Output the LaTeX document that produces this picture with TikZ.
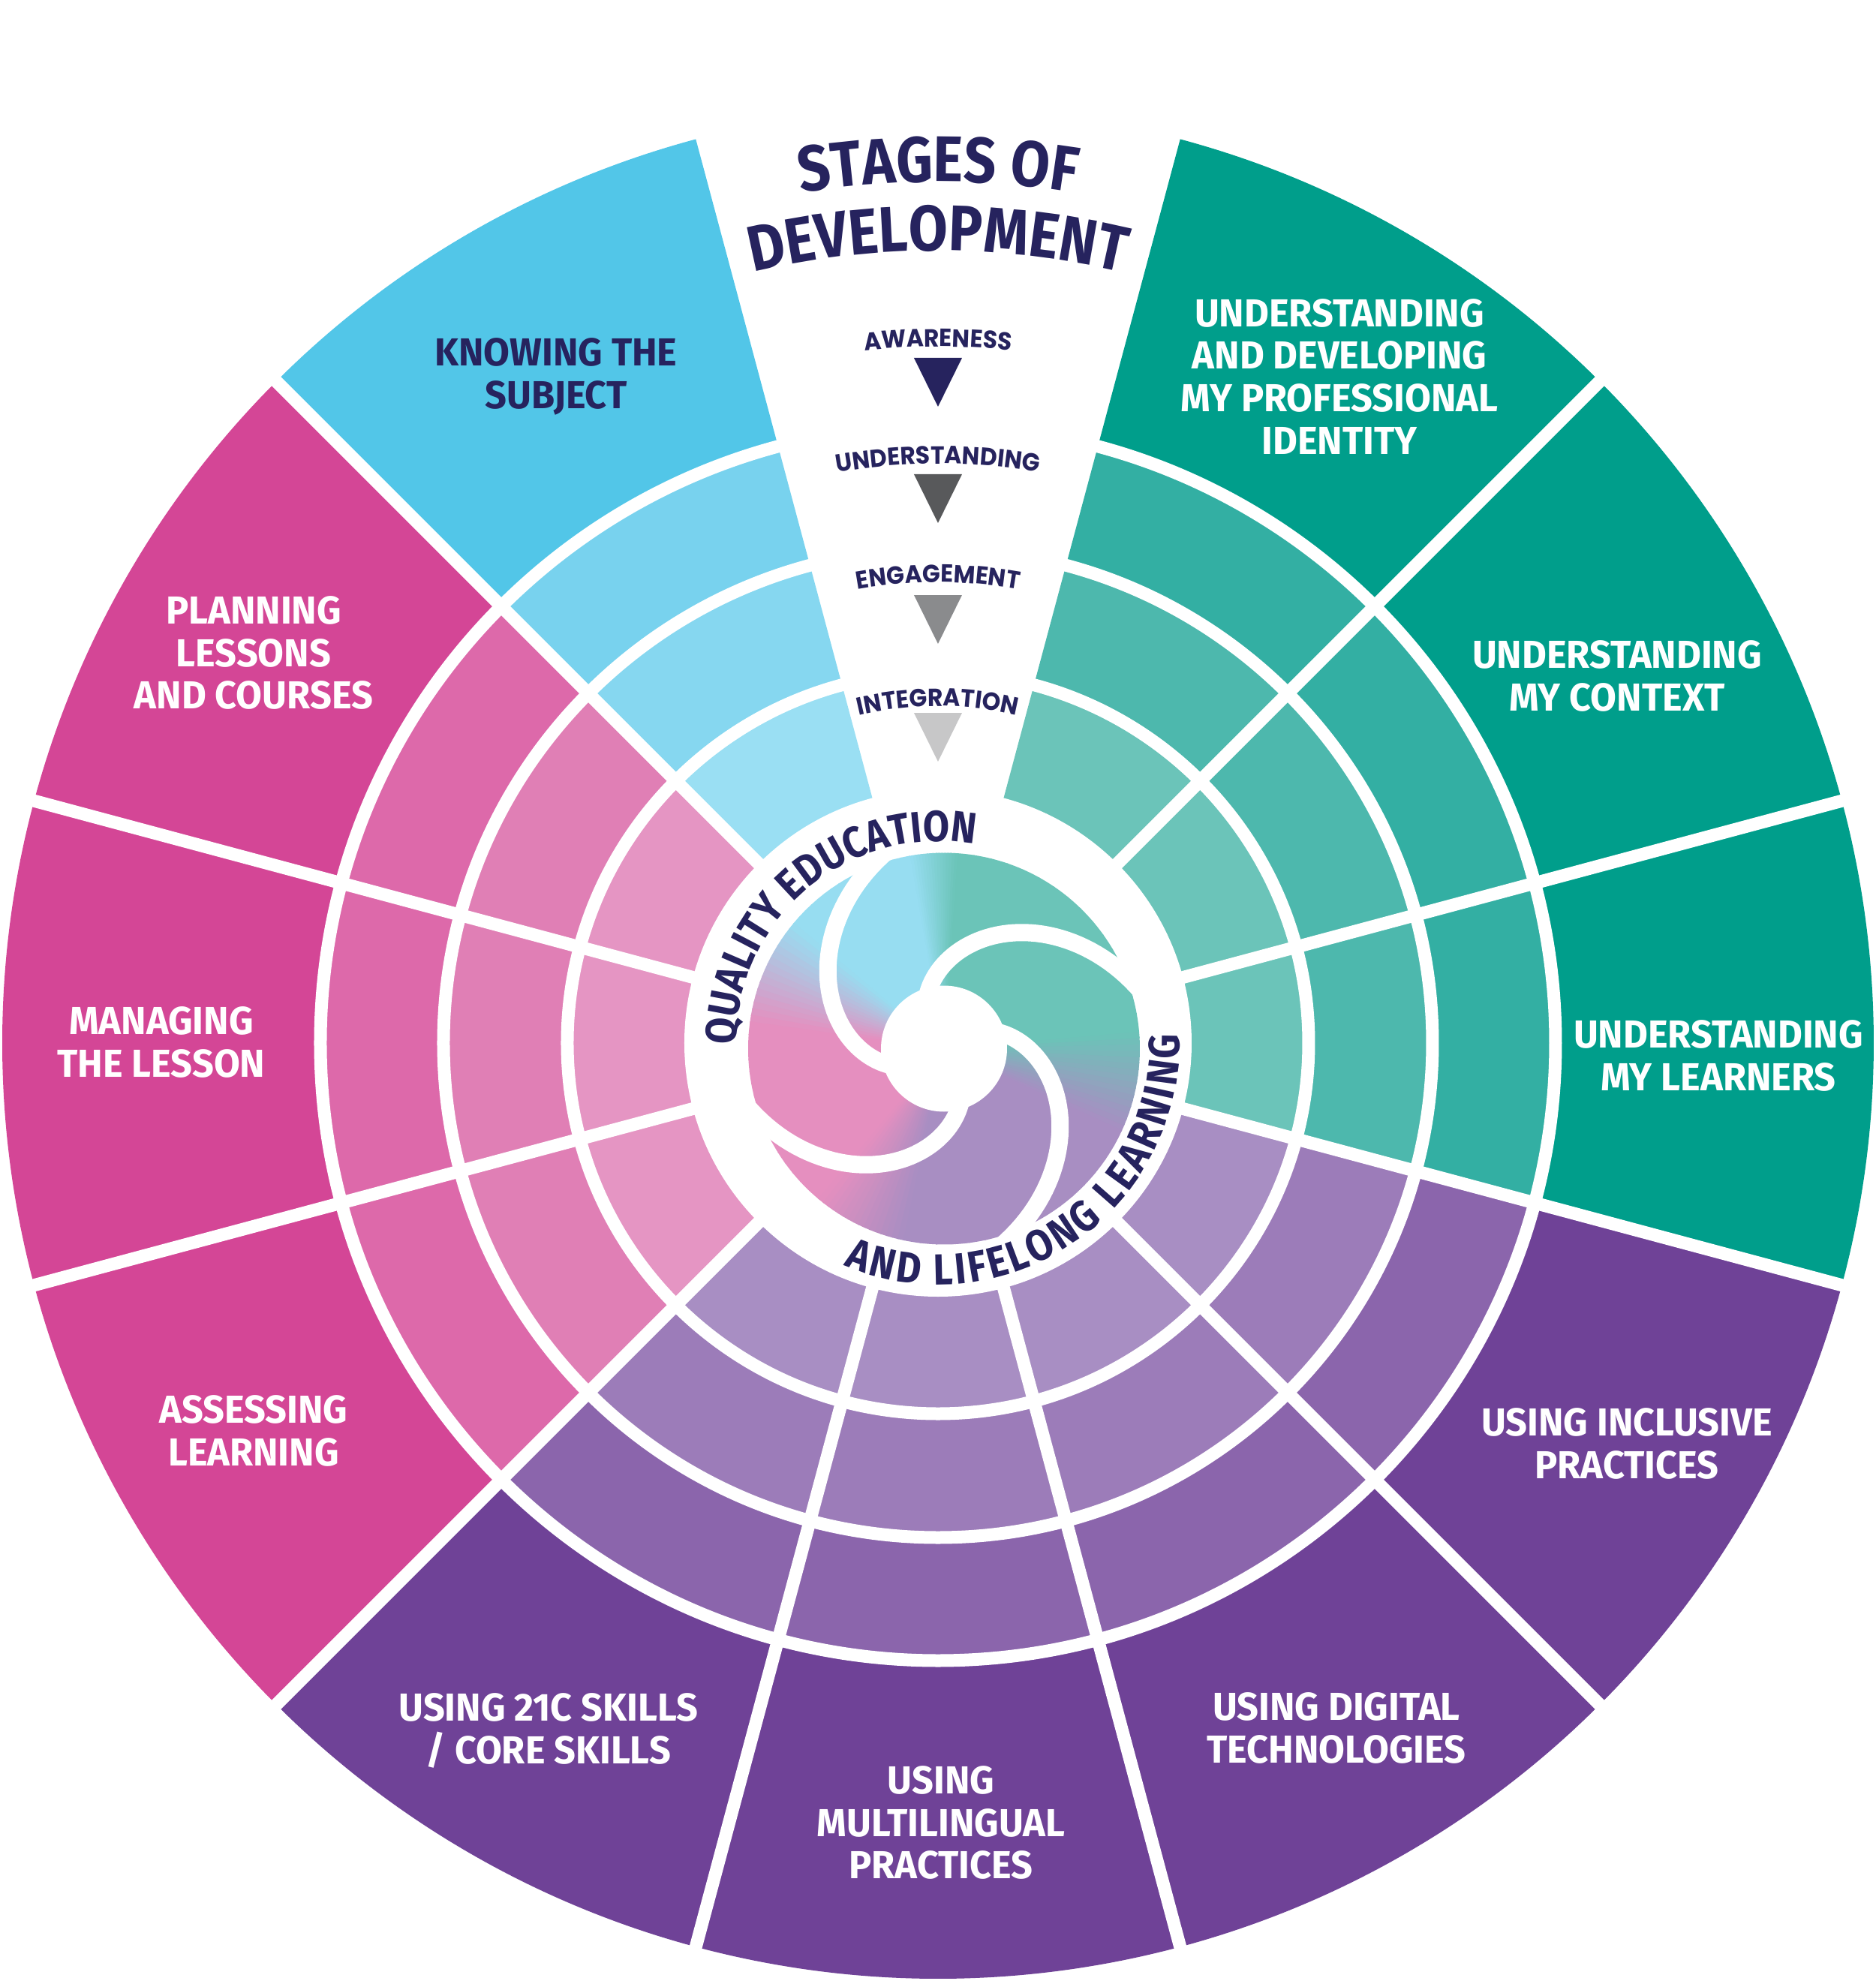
\documentclass[tikz,border=0pt]{standalone}
\usepackage{fontspec}
\setmainfont{Fira Sans}
\newfontfamily\wheelfont{Fira Sans}[FakeStretch=0.97]
\newfontfamily\titlefont{Fira Sans}[FakeStretch=0.88]
\newfontfamily\stagefont{Poppins}[FakeStretch=0.95]
\usetikzlibrary{decorations.text}

\definecolor{navy}{HTML}{26235E}
\definecolor{sky4}{HTML}{52C6E8}
\definecolor{sky3}{HTML}{78D2EE}
\definecolor{sky2}{HTML}{86D7F0}
\definecolor{sky1}{HTML}{9ADFF3}
\definecolor{rose4}{HTML}{D44696}
\definecolor{rose3}{HTML}{DD69AA}
\definecolor{rose2}{HTML}{E07FB5}
\definecolor{rose1}{HTML}{E595C3}
\definecolor{sea4}{HTML}{009E8B}
\definecolor{sea3}{HTML}{33AFA3}
\definecolor{sea2}{HTML}{4DB8AD}
\definecolor{sea1}{HTML}{6BC4B9}
\definecolor{plum4}{HTML}{6F4297}
\definecolor{plum3}{HTML}{8B65AC}
\definecolor{plum2}{HTML}{9C7CB9}
\definecolor{plum1}{HTML}{A88EC3}
\definecolor{stage2}{HTML}{58595B}
\definecolor{stage3}{HTML}{8A8B8D}
\definecolor{stage4}{HTML}{C7C7C8}
\definecolor{swblue}{HTML}{97DDF1}
\definecolor{swteal}{HTML}{6BC4B8}
\definecolor{swplum}{HTML}{A88EC2}
\definecolor{swrose}{HTML}{E58FBF}

\tikzset{
  gapline/.style  = {white, line width=1.7mm},
  swirlgap/.style = {white, line width=2.3mm},
  area/.style     = {font=\wheelfont\bfseries\fontsize{14.8}{16.2}\selectfont,
                     align=center, text=white},
  titletext/.style = {decorate, decoration={text along path, text align=center,
                     text color=navy,
                     text={|\titlefont\bfseries\fontsize{24.4}{24.4}\selectfont|#1}}},
  stagetext/.style = {decorate, decoration={text along path, text align=center,
                     text color=navy,
                     text={|\stagefont\bfseries\fontsize{9.4}{9.4}\selectfont|#1}}},
  ringtext/.style  = {decorate, decoration={text along path, text align=center,
                     text color=navy,
                     text={|\titlefont\bfseries\fontsize{16.5}{16.5}\selectfont|#1}}}
}

\begin{document}
\begin{tikzpicture}
\useasboundingbox (-12.5,-12.5) rectangle (12.5,13.9);

% the eleven segments, four shades each
\foreach \m/\hue in {120/sky,150/rose,180/rose,210/rose,240/plum,270/plum,
                     300/plum,330/plum,0/sea,30/sea,60/sea}
  \foreach \ri/\ro/\lvl in {3.2/4.94/1,4.94/6.59/2,6.59/8.23/3,8.23/12.47/4}
    \fill[\hue\lvl] ({\m-15}:\ri) arc[start angle={\m-15}, end angle={\m+15}, radius=\ri]
      -- ({\m+15}:\ro) arc[start angle={\m+15}, end angle={\m-15}, radius=\ro] -- cycle;

% white rings and spokes
\foreach \r in {4.94,6.59,8.23}
  \draw[gapline] (0,0) circle (\r);
\foreach \a in {15,45,135,165,195,225,255,285,315,345}
  \draw[gapline] (\a:3.2) -- (\a:12.6);
\fill[white] (0,0) circle (3.38);

% swirl in the middle
\begin{scope}[shift={(0.08,-0.075)}]
  \foreach \a/\b/\ca/\cb in {-25/5/swplum/swteal,5/86/swteal/swteal,86/100/swteal/swblue,
      100/140/swblue/swblue,140/172/swblue/swrose,172/230/swrose/swrose,
      230/258/swrose/swplum,258/335/swplum/swplum}
    \foreach \i in {0,...,15} {
      \pgfmathsetmacro\s{\a+(\b-(\a))*\i/16}
      \pgfmathsetmacro\e{\a+(\b-(\a))*(\i+1)/16+0.4}
      \pgfmathtruncatemacro\p{(\i+0.5)*100/16}
      \fill[\cb!\p!\ca] (0,0) -- (\s:2.61) arc[start angle=\s, end angle=\e, radius=2.61] -- cycle;
    }
  \fill[white] (0,0) circle (0.84);
  \foreach \k in {0,90,180,270}
    \draw[swirlgap, rotate=\k] plot[domain=104:200, samples=50] (\x:{2.63-0.0218*(\x-111)});
\end{scope}

% text round the swirl
\path[ringtext={QUALITY EDUCATION}] (200:2.69) arc[start angle=200, end angle=60, radius=2.69];
\path[decorate, decoration={text along path, text align={fit to path}, text color=navy,
      text={|\titlefont\bfseries\fontsize{16.5}{16.5}\selectfont|AND LIFELONG LEARNING}}]
  (247:3.22) arc[start angle=247, end angle=362, radius=3.22];

% stages of development
\path[titletext={STAGES OF}] (106:11.48) arc[start angle=106, end angle=74, radius=11.48];
\path[titletext={DEVELOPMENT}] (108:10.56) arc[start angle=108, end angle=72, radius=10.56];
\path[stagetext={AWARENESS}] (100:9.28) arc[start angle=100, end angle=80, radius=9.28];
\path[stagetext={UNDERSTANDING}] (104:7.72) arc[start angle=104, end angle=76, radius=7.72];
\path[stagetext={ENGAGEMENT}] (106:6.14) arc[start angle=106, end angle=74, radius=6.14];
\path[stagetext={INTEGRATION}] (110:4.49) arc[start angle=110, end angle=70, radius=4.49];
\foreach \y/\tone in {9.13/navy,7.58/stage2,5.97/stage3,4.40/stage4}
  \fill[\tone] (-0.32,\y) -- (0.32,\y) -- (0,{\y-0.65}) -- cycle;

% segment names
\node[area, text=navy] (knowing) at (-5.09,8.88) {KNOWING THE\\SUBJECT};
\node[area] (planning) at (-9.12,5.20) {PLANNING\\LESSONS\\AND COURSES};
\node[area] (managing) at (-10.35,0.01) {MANAGING\\THE LESSON};
\node[area] (assessing) at (-9.12,-5.17) {ASSESSING\\LEARNING};
\node[area] (skills) at (-5.19,-9.16) {USING 21C SKILLS\\/ CORE SKILLS};
\node[area] (multilingual) at (0.04,-10.39) {USING\\MULTILINGUAL\\PRACTICES};
\node[area] (digital) at (5.31,-9.13) {USING DIGITAL\\TECHNOLOGIES};
\node[area] (inclusive) at (9.18,-5.34) {USING INCLUSIVE\\PRACTICES};
\node[area] (learners) at (10.40,-0.17) {UNDERSTANDING\\MY LEARNERS};
\node[area] (context) at (9.05,4.89) {UNDERSTANDING\\MY CONTEXT};
\node[area] (identity) at (5.35,8.88) {UNDERSTANDING\\AND DEVELOPING\\MY PROFESSIONAL\\IDENTITY};
\end{tikzpicture}
\end{document}
